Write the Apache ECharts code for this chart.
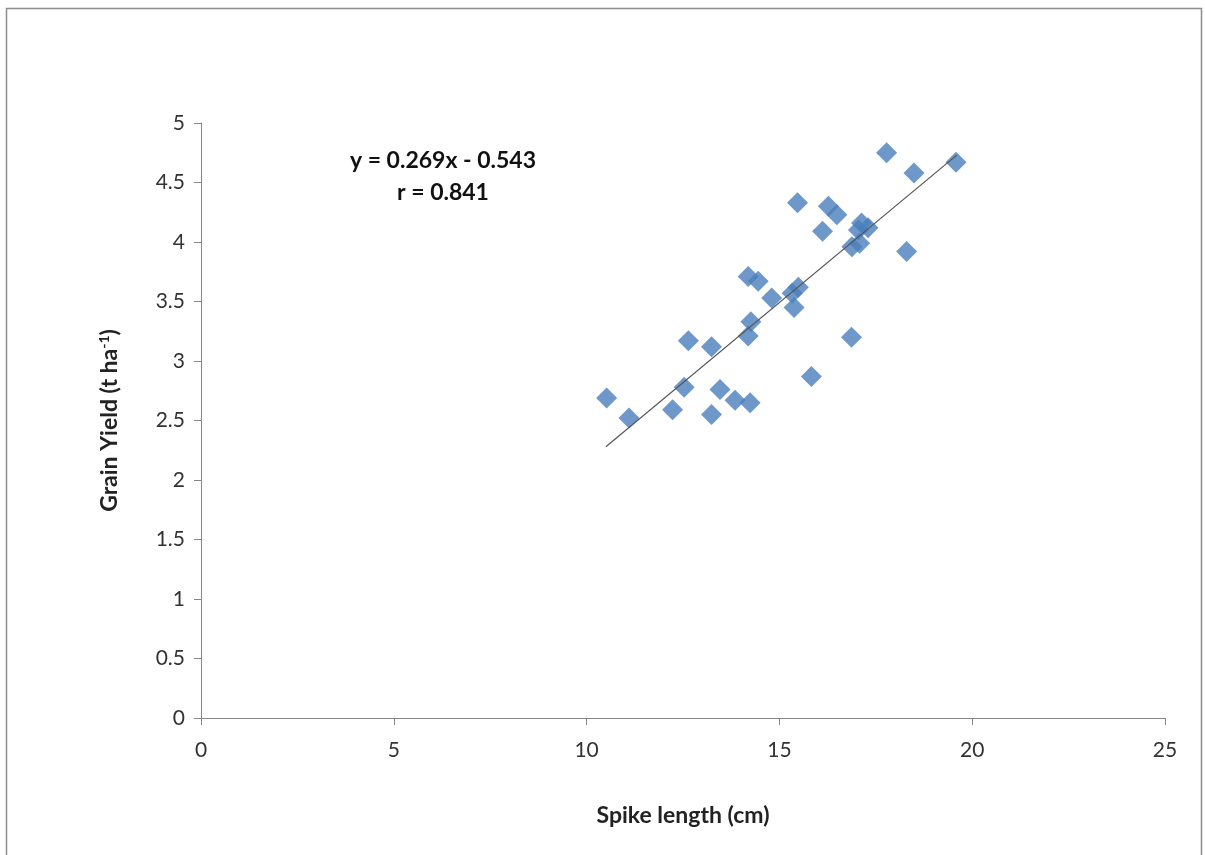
<!DOCTYPE html>
<html><head><meta charset="utf-8">
<script src="https://cdn.jsdelivr.net/npm/echarts@6/dist/echarts.min.js"></script>
<style>html,body{margin:0;padding:0;background:#fff}#c{width:1205px;height:855px}</style>
</head><body><div id="c"></div>
<script>
var spikeLength = [10.52,11.10,12.23,12.53,12.64,13.24,13.24,13.46,13.85,14.24,14.19,14.26,14.19,14.45,14.80,15.33,15.49,15.38,15.83,16.87,15.47,16.27,16.49,16.12,17.13,17.05,17.30,16.88,17.08,17.78,18.49,19.58,18.30];
var grainYield  = [2.69,2.52,2.59,2.78,3.17,3.12,2.55,2.76,2.67,2.65,3.21,3.33,3.71,3.67,3.53,3.57,3.62,3.45,2.87,3.20,4.33,4.30,4.23,4.09,4.16,4.10,4.12,3.96,3.99,4.75,4.58,4.67,3.92];
var trendX = [10.5, 19.6];
var trendY = [2.28, 4.73];
var xTicks = [0,5,10,15,20,25];
var yTicks = [0,0.5,1,1.5,2,2.5,3,3.5,4,4.5,5];
var equationText = ['y = 0.269x - 0.543', 'r = 0.841'];

var font = 'Lato, "Open Sans", sans-serif';
var chart = echarts.init(document.getElementById('c'));
chart.setOption({
  animation: false,
  backgroundColor: '#fff',
  grid: {left: 201, right: 40, top: 123, bottom: 137},
  xAxis: {
    type: 'value', min: xTicks[0], max: xTicks[xTicks.length-1], interval: 5,
    name: 'Spike length (cm)', nameLocation: 'middle', nameGap: 86,
    nameTextStyle: {fontFamily: font, fontSize: 23, fontWeight: 'bold', color: '#222'},
    axisLine: {lineStyle: {color: '#868686'}},
    axisTick: {show: true, inside: false, length: 7, lineStyle: {color: '#868686'}},
    axisLabel: {fontFamily: font, fontSize: 21, color: '#333', margin: 22},
    splitLine: {show: false}
  },
  yAxis: {
    type: 'value', min: yTicks[0], max: yTicks[yTicks.length-1], interval: 0.5,
    name: '{t|Grain Yield (t ha}{s|-1}{t|)}', nameLocation: 'middle', nameGap: 78,
    nameTextStyle: {rich: {
      t: {fontFamily: font, fontSize: 23, fontWeight: 'bold', color: '#222'},
      s: {fontFamily: font, fontSize: 14, fontWeight: 'bold', color: '#222', verticalAlign: 'top', padding: [0,0,12,0]}
    }},
    axisLine: {show: true, lineStyle: {color: '#868686'}},
    axisTick: {show: true, inside: false, length: 7, lineStyle: {color: '#868686'}},
    axisLabel: {fontFamily: font, fontSize: 21, color: '#333', margin: 16},
    splitLine: {show: false}
  },
  series: [
    {
      type: 'scatter', symbol: 'diamond', symbolSize: 21,
      itemStyle: {color: '#4a7ebb'},
      data: spikeLength.map(function(x, i){ return [x, grainYield[i]]; }),
      z: 2
    },
    {
      type: 'line', showSymbol: false, symbol: 'none',
      lineStyle: {color: '#555', width: 1.2},
      data: trendX.map(function(x, i){ return [x, trendY[i]]; }),
      z: 3
    }
  ],
  graphic: [
    {type: 'rect', shape: {x: 6.5, y: 8.5, width: 1195, height: 860}, style: {fill: 'none', stroke: '#8c8c8c', lineWidth: 1.5}},
    {type: 'text', x: 443, y: 161, style: {text: equationText[0], font: 'bold 23px ' + font, fill: '#111', textAlign: 'center', textVerticalAlign: 'middle'}},
    {type: 'text', x: 443, y: 193, style: {text: equationText[1], font: 'bold 23px ' + font, fill: '#111', textAlign: 'center', textVerticalAlign: 'middle'}}
  ]
});
</script></body></html>
